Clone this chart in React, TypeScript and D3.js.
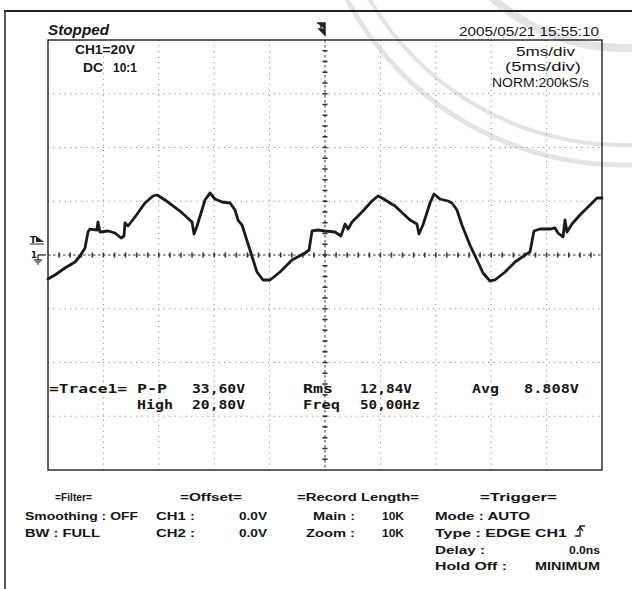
import React from "react";
import * as d3 from "d3";

// Waveform: time (ms, 0..50 across 10 div of 5 ms) and CH1 volts
const timeMs = [
  0.0, 0.63, 1.53, 2.44, 2.89, 3.34, 3.61, 3.79, 4.42, 4.51, 4.69, 5.42, 6.05, 6.59, 6.86, 6.95,
  7.22, 7.85, 8.75, 9.48, 9.84, 10.56, 11.91, 13.0, 13.18, 13.45, 14.17, 14.62, 15.07, 15.7,
  16.43, 16.88, 17.15, 17.51, 18.23, 18.86, 19.4, 20.04, 20.94, 22.02, 23.19, 23.56, 23.83,
  24.37, 25.0, 25.9, 26.44, 26.81, 27.08, 27.44, 28.34, 29.24, 29.78, 30.14, 31.32, 32.67,
  33.3, 33.48, 33.84, 34.48, 34.84, 35.38, 36.1, 36.46, 36.91, 37.36, 38.08, 38.72, 39.26,
  39.89, 40.34, 41.25, 42.15, 43.05, 43.5, 43.86, 44.4, 45.31, 45.76, 46.03, 46.48, 46.66,
  46.84, 47.29, 48.01, 48.92, 49.55, 50.0,
];
const voltsV = [
  -8.93, -7.44, -4.84, -2.6, -0.37, 2.6, 8.56, 9.67, 9.3, 12.28, 8.56, 8.93, 8.19, 6.33, 7.07,
  11.91, 10.79, 14.14, 19.35, 21.95, 22.33, 20.47, 16.37, 12.28, 7.81, 10.79, 20.47, 23.07,
  20.84, 19.72, 19.35, 16.74, 13.02, 11.16, 1.86, -6.33, -9.3, -9.3, -6.33, -1.86, 0.74, 1.86,
  8.93, 9.3, 8.93, 8.56, 7.07, 11.53, 9.67, 12.28, 16.0, 20.09, 21.95, 21.21, 18.23, 13.02,
  11.53, 7.81, 11.16, 19.35, 22.7, 20.84, 20.09, 19.35, 16.74, 11.16, 3.72, -1.86, -6.7,
  -9.67, -9.3, -6.33, -2.6, 0.0, 1.12, 8.93, 9.67, 9.67, 10.05, 8.19, 6.7, 13.02, 8.56, 11.53,
  14.88, 18.6, 21.21, 21.21,
];

const measureLabels = ["P-P", "High", "Rms", "Freq", "Avg"];
const measureValues = ["33,60V", "20,80V", "12,84V", "50,00Hz", "8.808V"];

const headerTexts = ["=Filter=", "=Offset=", "=Record Length=", "=Trigger="];

const W = 632;
const H = 589;

const x = d3.scaleLinear().domain([0, 50]).range([48, 602]);
const y = d3.scaleLinear().domain([-80, 80]).range([470, 40]);

type TP = {
  x: number;
  y: number;
  w?: number;
  size?: number;
  weight?: string | number;
  anchor?: string;
  italic?: boolean;
  family?: string;
  children: React.ReactNode;
};
function T({ x, y, w, size = 12, weight = "bold", anchor = "start", italic, family = "'Liberation Sans', Arial, sans-serif", children }: TP) {
  return (
    <text
      x={x}
      y={y}
      fontSize={size}
      fontWeight={weight}
      fontStyle={italic ? "italic" : "normal"}
      fontFamily={family}
      textAnchor={anchor}
      fill="#151515"
      {...(w ? { textLength: w, lengthAdjust: "spacingAndGlyphs" } : {})}
    >
      {children}
    </text>
  );
}

const MONO = "'DejaVu Sans Mono', monospace";

export default function App() {
  const line = d3
    .line<number>()
    .x((_, i) => x(timeMs[i]))
    .y((d) => y(d));

  const gridT = d3.range(5, 50, 5);
  const gridV = d3.range(-60, 80, 20);
  const minorT = d3.range(1, 50, 1);
  const minorV = d3.range(-76, 80, 4);
  const x0 = x(25);
  const y0 = y(0);

  return (
    <svg
      width={W}
      height={H}
      style={{ position: "absolute", left: 0, top: 0, background: "#fff" }}
    >
      <rect x={0} y={0} width={W} height={H} fill="#fff" />
      {/* watermark seal */}
      <g fill="none" stroke="#e3e3e3">
        <circle cx={623} cy={-148} r={313} strokeWidth={5} />
        <circle cx={623} cy={-148} r={293} strokeWidth={4} />
        <circle cx={623} cy={-148} r={196} strokeWidth={8} />
      </g>

      {/* outer frame */}
      <line x1={4} x2={W} y1={11} y2={11} stroke="#222" strokeWidth={2} />
      <line x1={5} x2={5} y1={11} y2={H} stroke="#333" strokeWidth={1.6} />

      {/* dotted grid */}
      <g stroke="#8a8a8a" strokeWidth={1} strokeDasharray="1.2,4.3">
        {gridT.filter((t) => t !== 25).map((t) => (
          <line key={"gt" + t} x1={x(t)} x2={x(t)} y1={y(80)} y2={y(-80)} />
        ))}
        {gridV.filter((v) => v !== 0).map((v) => (
          <line key={"gv" + v} x1={x(0)} x2={x(50)} y1={y(v)} y2={y(v)} />
        ))}
      </g>

      {/* center axes */}
      <g stroke="#333" strokeWidth={1}>
        <line x1={x(0)} x2={x(50)} y1={y0} y2={y0} strokeDasharray="2.5,2.5" />
        <line x1={x0} x2={x0} y1={y(80)} y2={y(-80)} strokeDasharray="2.5,2.5" />
        {minorT.map((t) => (
          <line key={"mt" + t} x1={x(t)} x2={x(t)} y1={y0 - 2.5} y2={y0 + 2.5} strokeWidth={1.6} />
        ))}
        {minorV.map((v) => (
          <line key={"mv" + v} x1={x0 - 2.5} x2={x0 + 2.5} y1={y(v)} y2={y(v)} strokeWidth={1.6} />
        ))}
      </g>

      {/* grid border */}
      <rect x={x(0)} y={y(80)} width={x(50) - x(0)} height={y(-80) - y(80)} fill="none" stroke="#222" strokeWidth={1.4} />

      {/* waveform */}
      <path
        d={line(voltsV) || ""}
        fill="none"
        stroke="#1b1b1b"
        strokeWidth={2.8}
        strokeLinejoin="round"
        strokeLinecap="round"
      />

      {/* trigger markers */}
      <path d={`M${x0 - 8},23 H${x0} V35 L${x0 - 6},29 H${x0}`} fill="#222" stroke="#222" strokeWidth={1.5} />
      <line x1={x0 - 4} x2={x0 - 4} y1={23} y2={28} stroke="#222" strokeWidth={1.4} />
      <T x={30} y={243} size={9} family="'DejaVu Sans', sans-serif">T</T>
      <path d="M36,236 L44,242 L36,242 Z" fill="#222" />
      <line x1={30} x2={44} y1={244} y2={244} stroke="#222" strokeWidth={1} />
      <T x={31} y={258} size={8.5} family="'DejaVu Sans', sans-serif">1</T>
      <g stroke="#222" strokeWidth={1.2}>
        <line x1={38} x2={38} y1={y0} y2={y0 + 5} />
        <line x1={34} x2={42} y1={y0 + 5} y2={y0 + 5} />
        <line x1={35.5} x2={40.5} y1={y0 + 7} y2={y0 + 7} />
        <line x1={37} x2={39} y1={y0 + 9} y2={y0 + 9} />
      </g>
      <line x1={38} x2={46} y1={y0} y2={y0} stroke="#222" strokeWidth={1.2} />

      {/* top texts */}
      <T x={48} y={35} size={14} italic w={61}>Stopped</T>
      <T x={75} y={54} size={12.5} w={60}>CH1=20V</T>
      <T x={83} y={72} size={12.5} w={20}>DC</T>
      <T x={113} y={72} size={12.5} w={24}>10:1</T>
      <T x={459} y={36} size={12.5} weight="normal" w={140}>2005/05/21  15:55:10</T>
      <T x={516} y={56} size={12.5} weight="normal" w={59}>5ms/div</T>
      <T x={505} y={71} size={12.5} weight="normal" w={76}>(5ms/div)</T>
      <T x={492} y={87} size={12} weight="normal" w={97}>NORM:200kS/s</T>

      {/* measurements */}
      <T x={49} y={393} size={12} family={MONO} w={78}>=Trace1=</T>
      <T x={137} y={393} size={12} family={MONO} w={30}>{measureLabels[0]}</T>
      <T x={192} y={393} size={12} family={MONO} w={53}>{measureValues[0]}</T>
      <T x={137} y={409} size={12} family={MONO} w={36}>{measureLabels[1]}</T>
      <T x={192} y={409} size={12} family={MONO} w={53}>{measureValues[1]}</T>
      <T x={303} y={393} size={12} family={MONO} w={30}>{measureLabels[2]}</T>
      <T x={360} y={393} size={12} family={MONO} w={52}>{measureValues[2]}</T>
      <T x={303} y={409} size={12} family={MONO} w={37}>{measureLabels[3]}</T>
      <T x={360} y={409} size={12} family={MONO} w={60}>{measureValues[3]}</T>
      <T x={472} y={393} size={12} family={MONO} w={27}>{measureLabels[4]}</T>
      <T x={524} y={393} size={12} family={MONO} w={55}>{measureValues[4]}</T>

      {/* bottom settings */}
      <T x={55} y={501} size={11.5} w={37}>{headerTexts[0]}</T>
      <T x={180} y={501} size={11.5} w={62}>{headerTexts[1]}</T>
      <T x={297} y={501} size={11.5} w={122}>{headerTexts[2]}</T>
      <T x={480} y={501} size={11.5} w={77}>{headerTexts[3]}</T>

      <T x={25} y={520} size={11.5} w={113}>Smoothing : OFF</T>
      <T x={25} y={537} size={11.5} w={75}>BW : FULL</T>
      <T x={156} y={520} size={11.5} w={39}>CH1 :</T>
      <T x={239} y={520} size={11.5} w={28}>0.0V</T>
      <T x={156} y={537} size={11.5} w={39}>CH2 :</T>
      <T x={239} y={537} size={11.5} w={28}>0.0V</T>
      <T x={313} y={520} size={11.5} w={42}>Main :</T>
      <T x={382} y={520} size={11.5} w={22}>10K</T>
      <T x={306} y={537} size={11.5} w={49}>Zoom :</T>
      <T x={382} y={537} size={11.5} w={22}>10K</T>
      <T x={435} y={520} size={11.5} w={95}>Mode : AUTO</T>
      <T x={435} y={537} size={11.5} w={132}>Type : EDGE CH1</T>
      <g stroke="#222" strokeWidth={1.3} fill="none">
        <path d="M575,536 H580 V526 H585" />
        <path d="M577,531 L580,527 L583,531" />
      </g>
      <T x={435} y={554} size={11.5} w={50}>Delay :</T>
      <T x={600} y={554} size={11.5} anchor="end" w={31}>0.0ns</T>
      <T x={435} y={570} size={11.5} w={72}>Hold Off :</T>
      <T x={600} y={570} size={11.5} anchor="end" w={65}>MINIMUM</T>
    </svg>
  );
}
